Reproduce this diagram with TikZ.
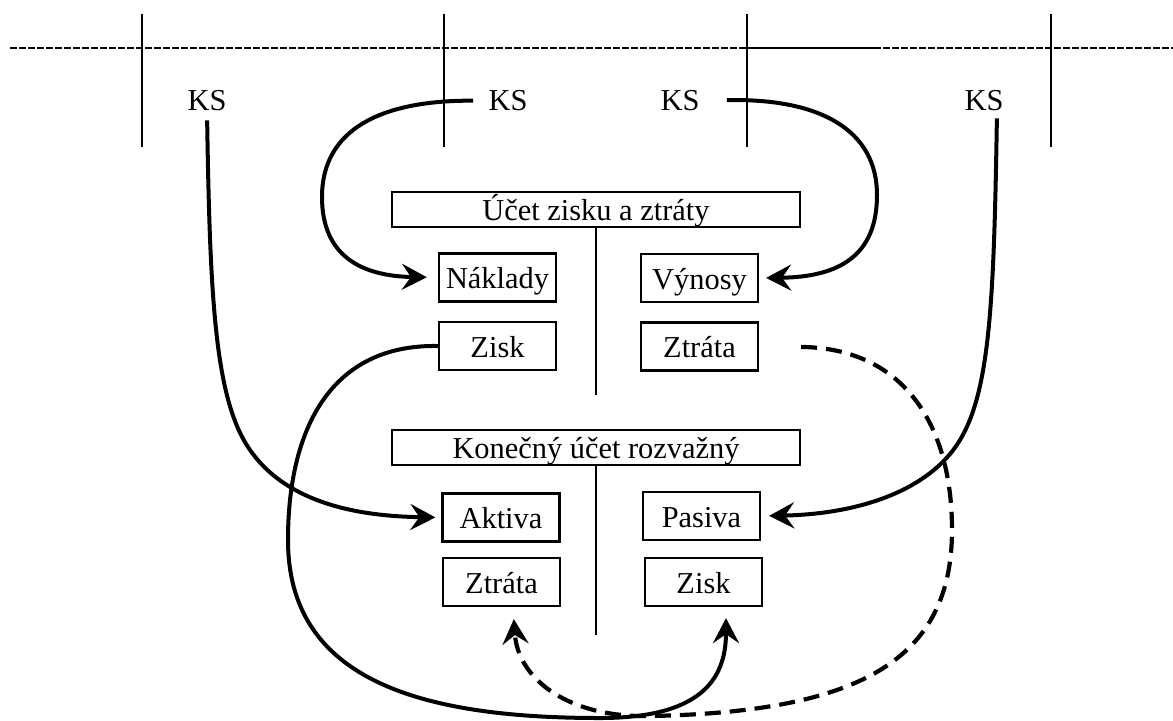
\documentclass[tikz,border=0pt]{standalone}
\usepackage{fontspec}
\setmainfont{Liberation Serif}
\usetikzlibrary{arrows.meta}
\begin{document}
\begin{tikzpicture}[x=0.5pt,y=-0.5pt,
  every node/.style={font=\fontsize{15.2}{17}\selectfont},
  acct/.style={draw, line width=1.1pt, inner sep=0pt, text height=11pt, text depth=0pt},
  ttl/.style={acct, minimum width=204pt, minimum height=17.5pt},
  item/.style={acct, minimum width=58.5pt, minimum height=24pt},
  lbl/.style={inner sep=0pt, anchor=base},
  flow/.style={line width=2pt, -{Stealth[length=12.5pt,width=13pt,inset=4.5pt]}},
  dflow/.style={flow, line width=2.1pt, dash pattern=on 8pt off 4.5pt},
  rule/.style={line width=1pt}
]
\useasboundingbox (0,0) rectangle (1173,720);

% ledger header row: dashed line with the T-account verticals
\draw[line width=0.75pt, dash pattern=on 3.5pt off 1pt] (10,48) -- (1173,48);
\draw[line width=0.9pt] (747,48) -- (881,48);
\foreach \x in {142,444,747,1051} \draw[rule] (\x,14) -- (\x,147);

% closing balances of the accounts
\node[lbl] (ks1) at (207,110.7) {KS};
\node[lbl] (ks2) at (508,110.7) {KS};
\node[lbl] (ks3) at (680,110.7) {KS};
\node[lbl] (ks4) at (984,110.7) {KS};

% profit and loss account
\node[ttl] (uzz) at (596,209.5) {Účet zisku a ztráty};
\draw[rule] (uzz.south) -- (596,395);
\node[item] (nakl)  at (497.5,277.5) {Náklady};
\node[item] (vyn)   at (699.5,278)   {Výnosy};
\node[item] (zisk1) at (497.5,346)   {Zisk};
\node[item] (ztr1)  at (699.5,346.5) {Ztráta};

% closing balance account
\node[ttl] (kur) at (596,447.5) {Konečný účet rozvažný};
\draw[rule] (kur.south) -- (596,635);
\node[item] (akt)   at (501,517.5) {Aktiva};
\node[item] (pas)   at (701.5,516) {Pasiva};
\node[item] (ztr2)  at (501.5,582) {Ztráta};
\node[item] (zisk2) at (703.5,582) {Zisk};

% transfers of the balances
\draw[flow, shorten <=7.5pt, shorten >=5.5pt] (ks2.west)
  .. controls (380,100) and (322,130) .. (322,197)
  .. controls (322,255) and (360,276) .. (nakl.west);
\draw[flow, shorten <=13.5pt, shorten >=3.5pt] (ks3.east)
  .. controls (820,98) and (877,130) .. (877,195)
  .. controls (877,255) and (840,277) .. (vyn.east);
\draw[flow, shorten <=4.5pt, shorten >=3pt] (ks1.south)
  .. controls (210,300) and (215,400) .. (250,450)
  .. controls (285,500) and (350,516) .. (akt.west);
\draw[flow, shorten <=3.5pt, shorten >=4pt] ([xshift=6.5pt]ks4.south)
  .. controls (994,300) and (990,390) .. (960,440)
  .. controls (930,490) and (860,514) .. (pas.east);
\draw[flow, shorten >=5.5pt] (zisk1.west)
  .. controls (330,344) and (288,430) .. (288,540)
  .. controls (288,680) and (420,718) .. (600,718)
  .. controls (700,718) and (726,680) .. ([xshift=11.25pt]zisk2.south);
\draw[dflow, shorten <=21pt, shorten >=6pt] (ztr1.east)
  .. controls (900,348) and (952,420) .. (952,530)
  .. controls (952,660) and (860,712) .. (650,716)
  .. controls (570,718) and (518,680) .. ([xshift=5.75pt]ztr2.south);
\end{tikzpicture}
\end{document}
